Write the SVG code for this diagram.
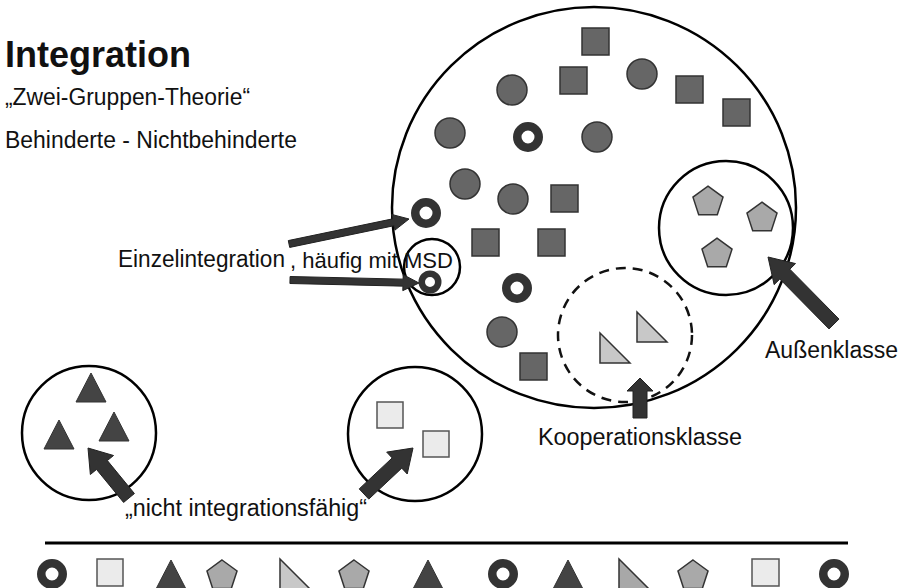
<svg xmlns="http://www.w3.org/2000/svg" xmlns:xlink="http://www.w3.org/1999/xlink" width="904" height="588" viewBox="0 0 904 588">
<style>
  .txt { font-family: "Liberation Sans", Arial, sans-serif; fill: #111; }
  .ring { fill: #fff; stroke: #333; stroke-width: 8.5; }
  .ringS { fill: #fff; stroke: #333; stroke-width: 6.5; }
  .dc { fill: #666; stroke: #333; stroke-width: 1.5; }
  .ds { fill: #666; stroke: #333; stroke-width: 1.5; }
  .ls { fill: #ebebeb; stroke: #555; stroke-width: 1.5; }
  .pent { fill: #a9a9a9; stroke: #333; stroke-width: 1.5; }
  .dtri { fill: #444; stroke: #333; stroke-width: 1; }
  .rtri { fill: #c8c8c8; stroke: #333; stroke-width: 1.5; }
  .rtri2 { fill: #a8a8a8; stroke: #333; stroke-width: 1.5; }
  .group { fill: none; stroke: #000; stroke-width: 2.5; }
  .dashed { fill: none; stroke: #111; stroke-width: 2.5; stroke-dasharray: 10 7; }
  .arrow { fill: #333; stroke: #222; stroke-width: 1; }
</style>
<defs>
  <path id="pentagon" d="M0,-15.8 L15.03,-4.88 L9.29,12.78 L-9.29,12.78 L-15.03,-4.88 Z"/>
  <path id="triangle" d="M0,-14.5 L15,14.5 L-15,14.5 Z"/>
  <path id="rtriangle" d="M0,0 L0,30 L30,30 Z"/>
</defs>
<rect width="904" height="588" fill="#fff"/>

<g id="title">
  <text class="txt" x="5" y="67" font-size="36" font-weight="bold" textLength="186" lengthAdjust="spacingAndGlyphs">Integration</text>
  <text class="txt" x="5" y="105" font-size="23" textLength="245" lengthAdjust="spacingAndGlyphs">„Zwei-Gruppen-Theorie“</text>
  <text class="txt" x="5" y="148" font-size="23" textLength="292" lengthAdjust="spacingAndGlyphs">Behinderte - Nichtbehinderte</text>
</g>

<g id="main-class">
  <ellipse class="group" cx="594" cy="207.5" rx="202" ry="200.5"/>
  <rect class="ds" x="582" y="28" width="27" height="27"/>
  <rect class="ds" x="560" y="67" width="27" height="27"/>
  <rect class="ds" x="676" y="76" width="27" height="27"/>
  <rect class="ds" x="723" y="99" width="27" height="27"/>
  <rect class="ds" x="551" y="185" width="27" height="27"/>
  <rect class="ds" x="472" y="229" width="27" height="27"/>
  <rect class="ds" x="538" y="229" width="27" height="27"/>
  <rect class="ds" x="520" y="353" width="27" height="27"/>
  <circle class="dc" cx="512" cy="90" r="15"/>
  <circle class="dc" cx="642" cy="74" r="15"/>
  <circle class="dc" cx="450" cy="133" r="15"/>
  <circle class="dc" cx="597" cy="137" r="15"/>
  <circle class="dc" cx="465" cy="184" r="15"/>
  <circle class="dc" cx="513" cy="199" r="15"/>
  <circle class="dc" cx="502" cy="332" r="15"/>
  <circle class="ring" cx="528" cy="137" r="10.75"/>
  <circle class="ring" cx="426" cy="213" r="10.75"/>
  <circle class="ring" cx="517" cy="288" r="10.75"/>
</g>

<g id="msd">
  <circle class="group" cx="432" cy="267" r="28"/>
  <circle class="ringS" cx="430" cy="282" r="8.25"/>
</g>

<g id="aussenklasse">
  <circle class="group" cx="726" cy="228" r="67"/>
  <use href="#pentagon" class="pent" x="708" y="202"/>
  <use href="#pentagon" class="pent" x="762" y="218"/>
  <use href="#pentagon" class="pent" x="717" y="254"/>
</g>

<g id="kooperationsklasse">
  <circle class="dashed" cx="625" cy="335" r="67"/>
  <use href="#rtriangle" class="rtri" x="600" y="333"/>
  <use href="#rtriangle" class="rtri" x="637" y="312"/>
</g>

<g id="left-group">
  <circle class="group" cx="89" cy="433" r="67"/>
  <use href="#triangle" class="dtri" x="91" y="387.5"/>
  <use href="#triangle" class="dtri" x="59" y="434.5"/>
  <use href="#triangle" class="dtri" x="114" y="426.5"/>
</g>

<g id="right-group">
  <circle class="group" cx="415" cy="434" r="67"/>
  <rect class="ls" x="377" y="402" width="26" height="26"/>
  <rect class="ls" x="423" y="431" width="26" height="26"/>
</g>

<g id="connectors">
  <polygon class="arrow" points="838.99,319.09 789.83,269.19 795.53,263.57 768,257 774.15,284.63 779.85,279.01 829.01,328.91"/>
  <polygon class="arrow" points="633,418 633,391 627,391 640,378 653,391 647,391 647,418"/>
  <polygon class="arrow" points="134.41,493.56 107.36,460.57 113.55,455.50 88,448 90.35,474.52 96.54,469.45 123.59,502.44"/>
  <polygon class="arrow" points="368.79,499.10 401.75,468.15 407.22,473.99 413,448 386.70,452.11 392.17,457.95 359.21,488.90"/>
  <polygon class="arrow" points="289.71,247.43 394.05,225.69 394.97,230.09 409,219 391.71,214.43 392.63,218.83 288.29,240.57"/>
  <polygon class="arrow" points="289.92,283.50 402.92,286.13 402.81,290.63 419,283 403.19,274.63 403.08,279.13 290.08,276.50"/>
</g>

<g id="labels">
  <text class="txt" x="118" y="267" font-size="23" textLength="167" lengthAdjust="spacingAndGlyphs">Einzelintegration</text>
  <text class="txt" x="290" y="268" font-size="22" textLength="163" lengthAdjust="spacingAndGlyphs">, häufig mit MSD</text>
  <text class="txt" x="765" y="358" font-size="23" textLength="133" lengthAdjust="spacingAndGlyphs">Außenklasse</text>
  <text class="txt" x="538" y="445" font-size="23" textLength="204" lengthAdjust="spacingAndGlyphs">Kooperationsklasse</text>
  <text class="txt" x="125" y="516" font-size="23" textLength="242" lengthAdjust="spacingAndGlyphs">„nicht integrationsfähig“</text>
</g>

<g id="legend">
  <line x1="45" y1="543" x2="848" y2="543" stroke="#000" stroke-width="3"/>
  <circle class="ring" cx="52" cy="574" r="10.75"/>
  <rect class="ls" x="97" y="559" width="26" height="27"/>
  <use href="#triangle" class="dtri" x="171" y="574.5"/>
  <use href="#pentagon" class="pent" x="222" y="575.8"/>
  <use href="#rtriangle" class="rtri" x="280" y="559"/>
  <use href="#pentagon" class="pent" x="354" y="575.8"/>
  <use href="#triangle" class="dtri" x="428" y="574.5"/>
  <circle class="ring" cx="503" cy="574" r="10.75"/>
  <use href="#triangle" class="dtri" x="568" y="574.5"/>
  <use href="#rtriangle" class="rtri2" x="619" y="559"/>
  <use href="#pentagon" class="pent" x="693" y="575.8"/>
  <rect class="ls" x="752" y="559" width="27" height="27"/>
  <circle class="ring" cx="834" cy="574" r="10.75"/>
</g>
</svg>
